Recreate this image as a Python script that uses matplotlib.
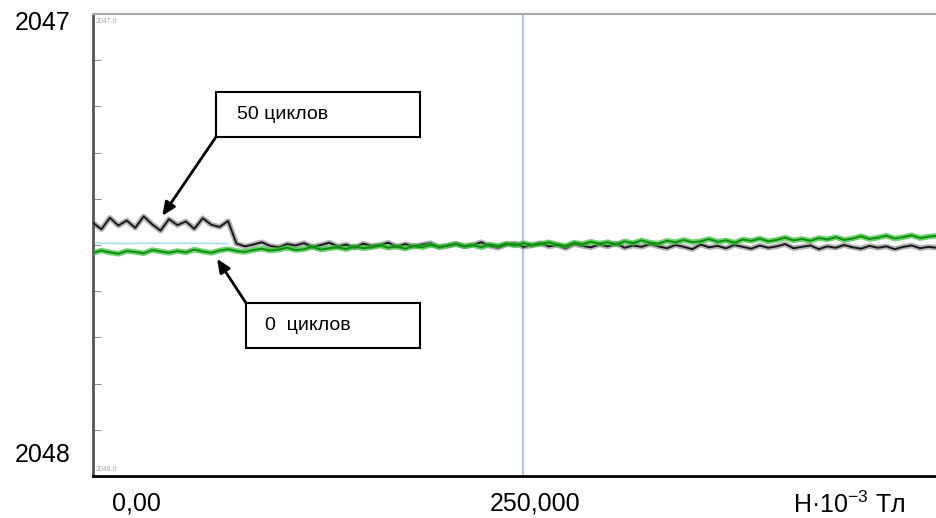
"""
Hysteresis-type trace: signal vs field H for 0 and 50 cycles.
"""

import numpy as np
import matplotlib.pyplot as plt
from matplotlib.patches import Rectangle

plt.rcParams["font.family"] = ["Liberation Sans", "DejaVu Sans"]
plt.rcParams["mathtext.fontset"] = "custom"
plt.rcParams["mathtext.rm"] = "Liberation Sans"
plt.rcParams["mathtext.it"] = "Liberation Sans"

# field, x10^-3 T (sampling step 5)
field = np.arange(0, 505, 5)

# 50 cycles: high part up to H~80, then merged with the 0-cycle trace
signal_50 = [
    2047.452, 2047.466, 2047.441, 2047.458, 2047.447, 2047.463, 2047.438, 2047.455, 2047.469, 2047.444,
    2047.457, 2047.449, 2047.465, 2047.442, 2047.456, 2047.461, 2047.448,
    2047.497, 2047.503, 2047.499, 2047.494, 2047.502, 2047.505, 2047.498, 2047.501, 2047.496, 2047.504,
    2047.500, 2047.495, 2047.503, 2047.499, 2047.506, 2047.497, 2047.502, 2047.500, 2047.495, 2047.504,
    2047.498, 2047.503, 2047.499, 2047.496, 2047.505, 2047.501, 2047.497, 2047.503, 2047.500, 2047.494,
    2047.502, 2047.506, 2047.499, 2047.497, 2047.504, 2047.501, 2047.496, 2047.503, 2047.500, 2047.507,
    2047.498, 2047.502, 2047.505, 2047.499, 2047.503, 2047.497, 2047.506, 2047.501, 2047.504, 2047.498,
    2047.503, 2047.507, 2047.500, 2047.504, 2047.509, 2047.499, 2047.505, 2047.502, 2047.507, 2047.500,
    2047.504, 2047.508, 2047.501, 2047.506, 2047.503, 2047.498, 2047.507, 2047.504, 2047.501, 2047.509,
    2047.503, 2047.506, 2047.500, 2047.505, 2047.508, 2047.502, 2047.506, 2047.503, 2047.509, 2047.504,
    2047.501, 2047.507, 2047.504, 2047.506]

# 0 cycles
signal_0 = [
    2047.517, 2047.512, 2047.516, 2047.519, 2047.513, 2047.515, 2047.518, 2047.511, 2047.514, 2047.517,
    2047.513, 2047.516, 2047.510, 2047.514, 2047.517, 2047.512, 2047.509, 2047.513, 2047.515, 2047.511,
    2047.508, 2047.512, 2047.510, 2047.506, 2047.511, 2047.509, 2047.504, 2047.510, 2047.507, 2047.505,
    2047.509, 2047.503, 2047.507, 2047.505, 2047.501, 2047.506, 2047.503, 2047.508, 2047.502, 2047.505,
    2047.500, 2047.504, 2047.502, 2047.498, 2047.503, 2047.500, 2047.505, 2047.499, 2047.502, 2047.497,
    2047.501, 2047.496, 2047.500, 2047.498, 2047.494, 2047.499, 2047.502, 2047.495, 2047.498, 2047.493,
    2047.497, 2047.494, 2047.499, 2047.492, 2047.496, 2047.490, 2047.495, 2047.497, 2047.491, 2047.494,
    2047.489, 2047.494, 2047.492, 2047.487, 2047.493, 2047.490, 2047.495, 2047.488, 2047.491, 2047.486,
    2047.492, 2047.489, 2047.484, 2047.490, 2047.487, 2047.491, 2047.485, 2047.488, 2047.483, 2047.489,
    2047.486, 2047.481, 2047.487, 2047.484, 2047.480, 2047.486, 2047.483, 2047.479, 2047.485, 2047.482,
    2047.480]

# faint reference trace at the start
field_ref = [0, 20, 40, 60, 80]
signal_ref = [2047.496, 2047.497, 2047.496, 2047.496, 2047.497]

cursor_h = 255
tick_pos = [26, 262, 448]
tick_labels = ["0,00", "250,000", "H·10$^{-3}$ Тл"]

fig = plt.figure(figsize=(9.37, 5.18), dpi=100)
ax = fig.add_axes([93 / 937, 42 / 518, 844 / 937, 462 / 518])

ax.axvline(cursor_h, color="#b8c8d8", lw=1.6, zorder=1)
ax.plot(field_ref, signal_ref, color="#a8e0ec", lw=1.2, zorder=2)
ax.plot(field, signal_50, color="#555555", lw=4, alpha=0.45, zorder=3)
ax.plot(field, signal_50, color="#1a1a1a", lw=1.4, zorder=3)
ax.plot(field, signal_0, color="#2fbf2f", lw=4, alpha=0.7, zorder=4)
ax.plot(field, signal_0, color="#108c10", lw=1.4, zorder=4)

ax.set_xlim(0, 500)
ax.set_ylim(2048, 2047)

ax.set_xticks(tick_pos)
ax.set_xticklabels(tick_labels, fontsize=18)
ax.tick_params(axis="x", length=0, pad=11)
ax.set_yticks([])
ax.set_yticks(np.arange(2047.1, 2047.95, 0.1), minor=True)
ax.tick_params(axis="y", which="minor", direction="in", length=6, color="#777777")

ax.spines["right"].set_visible(False)
ax.spines["top"].set_color("#aaaaaa")
ax.spines["top"].set_linewidth(1.5)
ax.spines["left"].set_color("#555555")
ax.spines["left"].set_linewidth(2)
ax.spines["bottom"].set_color("black")
ax.spines["bottom"].set_linewidth(2)

# y labels placed as in the original
ytrans = ax.get_yaxis_transform()
ax.text(-0.027, 2047.02, "2047", transform=ytrans, ha="right", va="center", fontsize=18)
ax.text(-0.027, 2047.955, "2048", transform=ytrans, ha="right", va="center", fontsize=18)
ax.text(0.003, 0.992, "2047.0", transform=ax.transAxes, fontsize=5, color="#aaaaaa", va="top")
ax.text(0.003, 0.006, "2048.0", transform=ax.transAxes, fontsize=5, color="#aaaaaa", va="bottom")

# callout boxes
boxes = [
    ("50 циклов", 0.1457, 0.7338, 0.2417, 0.0974, 0.1706, (41, 2047.437)),
    ("0  циклов", 0.1813, 0.2771, 0.2061, 0.0974, 0.2038, (73.5, 2047.530)),
]
for label, bx, by, bw, bh, tx, target in boxes:
    ax.add_patch(Rectangle((bx, by), bw, bh, transform=ax.transAxes, facecolor="white",
                           edgecolor="black", lw=1.5, zorder=6))
    ax.text(tx, by + bh / 2, label, transform=ax.transAxes, fontsize=14, va="center", zorder=7)
    corner = (bx, by) if by > 0.5 else (bx, by + bh)
    ax.annotate("", xy=target, xycoords="data", xytext=corner, textcoords="axes fraction",
                arrowprops=dict(arrowstyle="-|>,head_length=0.8,head_width=0.35",
                                color="black", lw=2, shrinkA=0, shrinkB=0), zorder=7)

plt.savefig("out.png", dpi=100)
